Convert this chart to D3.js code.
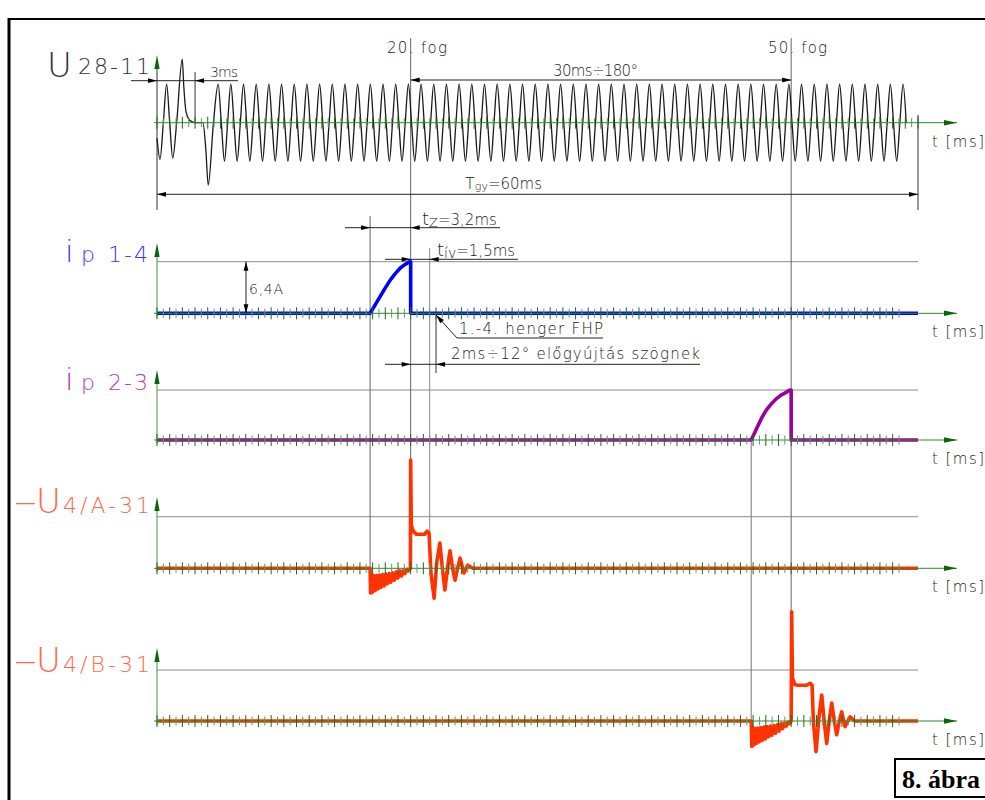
<!DOCTYPE html>
<html>
<head>
<meta charset="utf-8">
<script src="https://cdn.jsdelivr.net/npm/d3@7"></script>
<style>
body{margin:0;background:#fff}
svg{display:block;background:#fff}
text{font-family:"DejaVu Sans",sans-serif;font-weight:300}
</style>
</head>
<body>
<div id="chart"></div>
<script>

// ---- data (t in ms) ----

// crank sensor U28-11: start of the signal incl. the missing-tooth gap
var uLeadIn = [[0,-0.4],[0.24,-0.95],[0.5,0],[0.76,1],[1.0,0],[1.24,-0.92],[1.55,0],[1.99,1.65],
    [2.12,0.9],[2.29,0.28],[2.55,0.07],[2.81,0.02],[3.0,0],[3.62,0],[3.85,-0.7],[4.04,-1.62],[4.45,0]];
// regular teeth after the gap, and the shape of one tooth (offset from its peak, value)
var teethU = [5,6,7,8,9,10,11,12,13,14,15,16,17,18,19,20,21,22,23,24,25,26,27,28,29,30,31,32,
    33,34,35,36,37,38,39,40,41,42,43,44,45,46,47,48,49,50,51,52,53,54,55,56,57,58,59];
var toothShape = [[0,1],[0.25,0],[0.5,-1],[0.75,0]];
var toothPeakShift = -0.18;
var uEnd = 59.1;

// primary currents (A)
var ip14 = [[0,0],[16.8,0],[17.2,1.05],[17.6,2.1],[18.0,3.15],[18.4,4.15],[18.8,4.95],[19.2,5.65],
    [19.6,6.1],[19.9,6.4],[20,6.4],[20,0],[60,0]];
var ip23 = [[0,0],[46.85,0],[47.4,1.9],[47.7,2.9],[48.05,3.85],[48.45,4.65],[48.85,5.3],[49.2,5.75],
    [49.5,6.0],[49.9,6.4],[50,6.4],[50,0],[60,0]];

// secondary voltages (relative to the grey reference line)
var u4a = [[0,0],[16.8,0],[16.84,-0.48],[16.92,-0.12],[17.0,-0.46],[17.1,-0.14],[17.2,-0.43],[17.32,-0.14],
    [17.42,-0.4],[17.55,-0.13],[17.65,-0.37],[17.8,-0.12],[17.9,-0.34],[18.05,-0.11],[18.15,-0.3],[18.32,-0.1],
    [18.42,-0.27],[18.6,-0.09],[18.7,-0.23],[18.88,-0.07],[18.98,-0.19],[19.16,-0.05],[19.26,-0.15],[19.44,-0.04],
    [19.54,-0.1],[19.72,-0.02],[19.82,-0.05],[19.98,0],
    [20,2.1],[20.05,0.84],[20.2,0.72],[20.45,0.66],[21.1,0.66],[21.3,0.72],[21.45,0.68],[21.6,-0.1],
    [21.85,-0.58],[22.05,0.1],[22.3,0.49],[22.5,0],[22.7,-0.42],[22.9,0],[23.1,0.34],[23.3,0],
    [23.5,-0.23],[23.7,0],[23.9,0.2],[24.05,0.05],[24.2,-0.09],[24.5,0.06],[24.9,0],[60,0]];
var u4b = [[0,0],[46.85,0],[46.9,-0.5],[46.98,-0.13],[47.06,-0.47],[47.16,-0.15],[47.26,-0.44],[47.38,-0.14],
    [47.48,-0.41],[47.61,-0.13],[47.71,-0.38],[47.86,-0.12],[47.96,-0.35],[48.11,-0.11],[48.21,-0.31],[48.38,-0.1],
    [48.48,-0.28],[48.66,-0.09],[48.76,-0.24],[48.94,-0.07],[49.04,-0.2],[49.22,-0.05],[49.32,-0.15],[49.5,-0.04],
    [49.6,-0.1],[49.78,-0.02],[49.88,-0.05],[50.0,0],
    [50.04,2.14],[50.1,0.84],[50.3,0.71],[50.55,0.7],[51.2,0.7],[51.5,0.74],[51.65,0.7],[51.75,0],
    [51.96,-0.6],[52.2,0.1],[52.41,0.51],[52.6,0],[52.8,-0.44],[53.0,0],[53.2,0.35],[53.4,0],
    [53.59,-0.27],[53.8,0],[53.98,0.18],[54.1,0.05],[54.25,-0.11],[54.64,0.08],[55.0,0],[60,0]];

// ---- drawing ----

var svg = d3.select('#chart').append('svg')
    .attr('width', 985).attr('height', 800);

var x = d3.scaleLinear().domain([0, 60]).range([157, 918]);
var yU = d3.scaleLinear().domain([-1, 1]).range([161.2, 84.2]);
var yIa = d3.scaleLinear().domain([0, 6.4]).range([313.3, 261.7]);
var yIb = d3.scaleLinear().domain([0, 6.4]).range([440, 390]);
var yUa = d3.scaleLinear().domain([0, 1]).range([568.3, 516.7]);
var yUb = d3.scaleLinear().domain([0, 1]).range([721, 670]);

// frame
svg.append('line').attr('x1', 9).attr('x2', 9).attr('y1', 18).attr('y2', 800)
    .attr('stroke', '#000').attr('stroke-width', 3);
svg.append('line').attr('x1', 8).attr('x2', 985).attr('y1', 19).attr('y2', 19)
    .attr('stroke', '#000').attr('stroke-width', 2);

function arrow(g, tx, ty, ang, fill, L, W){
    L = L || 9; W = W || 2.4;
    var c = Math.cos(ang), s = Math.sin(ang);
    var bx = tx - L*c, by = ty - L*s;
    var pts = [[tx,ty],[bx - W*s, by + W*c],[bx + W*s, by - W*c]];
    g.append('polygon').attr('points', pts.map(function(p){return p.join(',')}).join(' '))
        .attr('fill', fill || '#000');
}
var R = 0, LFT = Math.PI, UP = -Math.PI/2, DN = Math.PI/2;

function vline(g, xx, y1, y2, col){
    g.append('line').attr('x1', xx).attr('x2', xx).attr('y1', y1).attr('y2', y2)
        .attr('stroke', col || '#777').attr('stroke-width', 1);
}
function hline(g, x1, x2, yy, col){
    g.append('line').attr('x1', x1).attr('x2', x2).attr('y1', yy).attr('y2', yy)
        .attr('stroke', col || '#222').attr('stroke-width', 1);
}

var guides = svg.append('g');
// grey reference lines
[yIa(6.4), yIb(6.4), yUa(1), yUb(1)].forEach(function(yy){
    hline(guides, x(0), x(60), yy, '#8c8c8c');
});
// extension lines
vline(guides, x(20), 38, yUa(0), '#666');
vline(guides, x(50), 38, yUb(0), '#666');
vline(guides, x(16.8), 216, yUa(0), '#666');
vline(guides, x(21.5), 248, yUa(0), '#888');
vline(guides, x(22), 316, 373, '#333');
vline(guides, x(46.85), 440, yUb(0), '#777');
vline(guides, x(3), 72, yU(0), '#333');
vline(guides, x(0), 66, 210, '#333');
vline(guides, x(60), 115, 210, '#333');

// green axes
var panels = [
    {y: yU, tip: 55, tEnd: 60},
    {y: yIa, tip: 243, tEnd: 58.5},
    {y: yIb, tip: 370, tEnd: 58.5},
    {y: yUa, tip: 497, tEnd: 58.5},
    {y: yUb, tip: 648, tEnd: 58.5}
];
var axes = svg.append('g');
panels.forEach(function(p, i){
    var by = p.y(0);
    if (i > 0) vline(axes, x(0), by + 4, p.tip + 6, '#4f8f4f');
    hline(axes, x(0) - 3, 957, by, '#2f8a2f');
    arrow(axes, 957, by, R, '#0b650b', 13, 2.8);
    arrow(axes, x(0), p.tip, UP, '#0b650b', 14, 2.6);
});

// signals
var uPts = uLeadIn.slice();
teethU.forEach(function(k){
    toothShape.forEach(function(s){
        var t = k + toothPeakShift + s[0];
        if (t <= uEnd) uPts.push([t, s[1]]);
    });
});

function lineFor(yy, curve){
    return d3.line().x(function(d){return x(d[0])}).y(function(d){return yy(d[1])})
        .curve(curve || d3.curveLinear);
}
var sig = svg.append('g').attr('fill', 'none').attr('stroke-linejoin', 'round');
sig.append('path').datum(uPts).attr('d', lineFor(yU, d3.curveMonotoneX))
    .attr('stroke', '#1a1a1a').attr('stroke-width', 1.3);
sig.append('path').datum(ip14).attr('d', lineFor(yIa))
    .attr('stroke', '#0000ff').attr('stroke-width', 3.6);
sig.append('path').datum(ip23).attr('d', lineFor(yIb))
    .attr('stroke', '#9a009a').attr('stroke-width', 3.6);
sig.append('path').datum(u4a).attr('d', lineFor(yUa))
    .attr('stroke', '#ff3300').attr('stroke-width', 3.6);
sig.append('path').datum(u4b).attr('d', lineFor(yUb))
    .attr('stroke', '#ff3300').attr('stroke-width', 3.6);

// ticks every 0.5 ms
panels.forEach(function(p){
    var by = p.y(0);
    axes.append('g').selectAll('line')
        .data(d3.range(0, p.tEnd + 0.01, 0.5))
        .enter().append('line')
        .attr('x1', function(d){return x(d)}).attr('x2', function(d){return x(d)})
        .attr('y1', function(d){return by - (d % 1 == 0 ? 6 : 4.5)})
        .attr('y2', function(d){return by + (d % 1 == 0 ? 6 : 4.5)})
        .attr('stroke', function(d){return d % 1 == 0 ? '#1d6e1d' : '#5c9c5c'})
        .attr('stroke-width', 1);
});
svg.node().appendChild(axes.node());

// dimensions
var dims = svg.append('g');
hline(dims, 131, 238, 80.7);
arrow(dims, x(0), 80.7, R); arrow(dims, x(3), 80.7, LFT);
hline(dims, x(20), x(50), 80);
arrow(dims, x(20), 80, LFT); arrow(dims, x(50), 80, R);
hline(dims, x(0), x(60), 194.3);
arrow(dims, x(0), 194.3, LFT); arrow(dims, x(60), 194.3, R);
hline(dims, 345, 500, 227.7);
arrow(dims, x(16.8), 227.7, R); arrow(dims, x(20), 227.7, LFT);
hline(dims, 385, 518, 259.3);
arrow(dims, x(20), 259.3, R); arrow(dims, x(21.5), 259.3, LFT);
hline(dims, 385, 700, 364.3);
arrow(dims, x(20), 364.3, R); arrow(dims, x(22), 364.3, LFT);
vline(dims, 246, yIa(6.4), yIa(0), '#222');
arrow(dims, 246, yIa(6.4), UP); arrow(dims, 246, yIa(0), DN);
// FHP leader
dims.append('polyline').attr('points', [[x(22), 315], [457, 338], [603, 338]].join(' '))
    .attr('fill', 'none').attr('stroke', '#222').attr('stroke-width', 1);
arrow(dims, x(22), 315, Math.atan2(315 - 338, x(22) - 457));

// texts
function txt(str, xx, yy, size, col, len){
    var t = svg.append('text').attr('x', xx).attr('y', yy)
        .attr('font-size', size).attr('fill', col || '#1a1a1a').text(str);
    if (len) t.attr('textLength', len);
    return t;
}
txt('20. fog', 387, 53, 15, null, 60);
txt('50. fog', 768, 53, 15, null, 59);
txt('30ms÷180°', 553, 76, 15, null, 85);
txt('3ms', 210, 77, 14, null, 28);
txt('6,4A', 249, 294, 14, null, 34);
txt('1.-4. henger FHP', 459, 334, 15, null, 144);
txt('2ms÷12° előgyújtás szögnek', 451, 359, 15, null, 249);

var tg = svg.append('text').attr('x', 465).attr('y', 189).attr('fill', '#1a1a1a');
tg.append('tspan').attr('font-size', 16).text('T');
tg.append('tspan').attr('font-size', 11).attr('dy', 1).text('gy');
tg.append('tspan').attr('font-size', 15).attr('dy', -1).text('=60ms');

var tz = svg.append('text').attr('x', 422).attr('y', 225).attr('fill', '#1a1a1a');
tz.append('tspan').attr('font-size', 18).text('t');
tz.append('tspan').attr('font-size', 13).attr('dy', 2).text('Z');
tz.append('tspan').attr('font-size', 15).attr('dy', -2).text('=3,2ms');

var tiv = svg.append('text').attr('x', 437).attr('y', 256).attr('fill', '#1a1a1a');
tiv.append('tspan').attr('font-size', 18).text('t');
tiv.append('tspan').attr('font-size', 14).attr('dy', 2).text('ív');
tiv.append('tspan').attr('font-size', 15).attr('dy', -2).text('=1,5ms');

panels.forEach(function(p){
    txt('t [ms]', 932, p.y(0) + 24, 15, null, 52);
});

// channel labels
txt('U', 47, 77, 34, '#333');
txt('28-11', 78, 74, 22, '#333', 72);

txt('i', 65, 262, 31, '#3a3aff');
txt('p', 81, 262, 22, '#3a3aff');
txt('1-4', 108, 262, 22, '#3a3aff', 40);

txt('i', 65, 390, 31, '#b040b0');
txt('p', 81, 390, 22, '#b040b0');
txt('2-3', 108, 390, 22, '#b040b0', 40);

txt('−', 13, 513, 30, '#ff6a48');
txt('U', 36, 513, 34, '#ff6a48');
txt('4/A-31', 63, 513, 22, '#ff6a48', 87);
txt('−', 13, 672, 30, '#ff6a48');
txt('U', 36, 672, 34, '#ff6a48');
txt('4/B-31', 63, 672, 22, '#ff6a48', 87);

// figure number
svg.append('rect').attr('x', 895).attr('y', 759).attr('width', 100).attr('height', 38)
    .attr('fill', '#fff').attr('stroke', '#000').attr('stroke-width', 2);
svg.append('text').attr('x', 902).attr('y', 788)
    .style('font-family', '"Liberation Serif", serif').style('font-weight', 'bold')
    .attr('font-size', 26).attr('fill', '#000').text('8. ábra');

</script>
</body>
</html>
